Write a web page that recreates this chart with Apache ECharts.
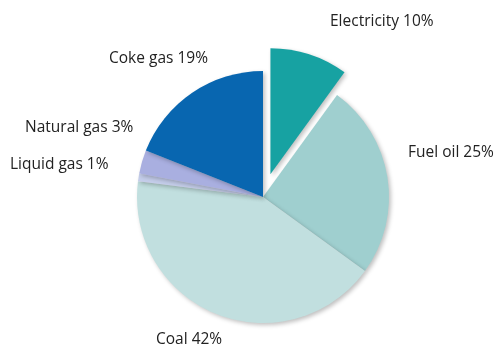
<!DOCTYPE html>
<html>
<head>
<meta charset="utf-8">
<script src="https://cdn.jsdelivr.net/npm/echarts@6/dist/echarts.min.js"></script>
<style>
  html, body { margin: 0; padding: 0; background: #fff; }
  #chart { width: 495px; height: 345px; }
</style>
</head>
<body>
<div id="chart"></div>
<script>
// energy mix shares, clockwise from 12 o'clock
const categories = ['Electricity', 'Fuel oil', 'Coal', 'Liquid gas', 'Natural gas', 'Coke gas']
const shares = [10, 25, 42, 1, 3, 19]
const colors = ['#17a2a2', '#9fcfcf', '#c1dfdf', '#c4cdea', '#a9afe0', '#0866b0']

// where each label sits (left edge, vertical middle)
const labelAnchors = [
  [330, 24],
  [408, 153],
  [156, 340],
  [10, 165],
  [25, 128],
  [109, 59]
]

const labelFont = { fill: '#222', fontFamily: 'Open Sans', fontSize: 15.5 }
const fmt = i => categories[i] + ' ' + shares[i] + '%'

const chart = echarts.init(document.getElementById('chart'))

const option = {
  animation: false,
  // the pulled-out slice ignores labelLayout, so its label is drawn here
  graphic: [{
    type: 'text',
    left: labelAnchors[0][0],
    top: labelAnchors[0][1] - 10,
    style: Object.assign({ text: fmt(0) }, labelFont)
  }],
  series: [{
    type: 'pie',
    center: [263, 197],
    radius: 126,
    startAngle: 90,
    clockwise: true,
    selectedMode: 'single',
    selectedOffset: 24,
    itemStyle: {
      shadowBlur: 4,
      shadowOffsetX: 2,
      shadowOffsetY: 2,
      shadowColor: 'rgba(0,0,0,0.25)'
    },
    select: {
      itemStyle: { borderWidth: 0 }
    },
    label: {
      show: true,
      color: labelFont.fill,
      fontFamily: labelFont.fontFamily,
      fontSize: labelFont.fontSize,
      overflow: 'none',
      formatter: p => fmt(p.dataIndex)
    },
    labelLine: { show: false },
    labelLayout: p => ({
      x: labelAnchors[p.dataIndex][0],
      y: labelAnchors[p.dataIndex][1],
      align: 'left',
      verticalAlign: 'middle'
    }),
    data: categories.map((name, i) => ({
      name: name,
      value: shares[i],
      selected: i === 0,
      label: { show: i !== 0 },
      itemStyle: { color: colors[i] }
    }))
  }]
}

chart.setOption(option)
window.addEventListener('resize', () => chart.resize())
</script>
</body>
</html>
